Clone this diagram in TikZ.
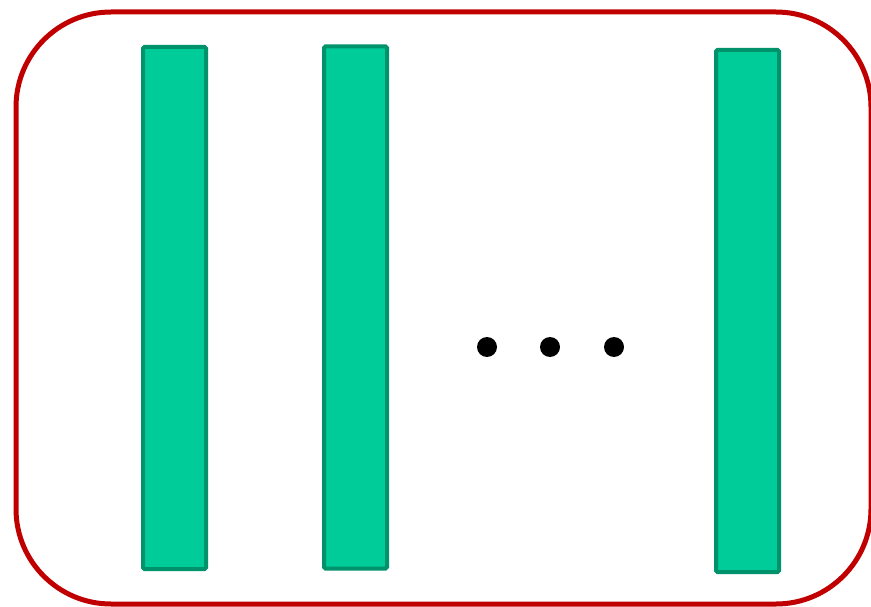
\documentclass[tikz,border=0pt]{standalone}
\usepackage{tikz}
\usetikzlibrary{positioning}
\definecolor{boxred}{RGB}{192,0,0}
\definecolor{barfill}{RGB}{0,204,153}
\definecolor{bardraw}{RGB}{0,146,106}
\tikzset{
  frame/.style={draw=boxred,line width=5pt,rounded corners=95pt,minimum width=855pt,minimum height=592pt,inner sep=0pt},
  bar/.style={draw=bardraw,fill=barfill,line width=4pt,rounded corners=1.5pt,minimum width=63pt,minimum height=522pt,inner sep=0pt},
  gap/.style={circle,fill=black,minimum size=20pt,inner sep=0pt}
}
\begin{document}
\begin{tikzpicture}[x=1pt,y=-1pt]
\useasboundingbox (0,0) rectangle (871,607);
\node[frame] (box) at (443.5,308) {};
\node[bar] (bar1) at (174.5,308) {};
\node[bar] (bar2) at (355.5,307.5) {};
\node[bar] (barn) at (747.5,311) {};
\node[gap] (dot1) at (487,347) {};
\node[gap] (dot2) at (550,347) {};
\node[gap] (dot3) at (614,347) {};
\end{tikzpicture}
\end{document}
